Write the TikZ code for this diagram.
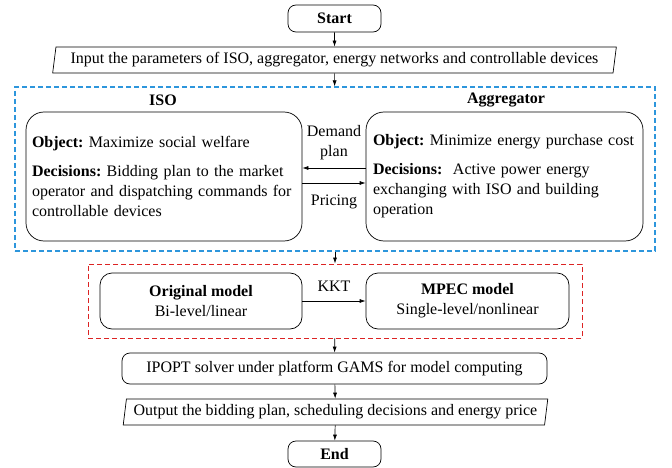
\documentclass[tikz,border=0pt]{standalone}
\usepackage{fontspec}
\setmainfont{Liberation Serif}
\usetikzlibrary{arrows.meta,shapes.geometric}
\definecolor{isoblue}{RGB}{45,150,220}
\definecolor{kktred}{RGB}{220,35,35}
\tikzstyle{term}=[draw,rounded corners=8pt,minimum width=93pt,minimum height=27pt,font=\bfseries]
\tikzstyle{io}=[draw,trapezium,trapezium left angle=78,trapezium right angle=102,trapezium stretches=true,minimum height=26pt,inner sep=0pt]
\tikzstyle{agent}=[draw,rounded corners=18pt,minimum height=129pt,align=left,inner xsep=6pt]
\tikzstyle{model}=[draw,rounded corners=12pt,minimum width=202pt,minimum height=56pt,align=center,inner sep=2pt]
\tikzstyle{frame}=[line width=1.2pt,dash pattern=on 5pt off 3pt]
\tikzstyle{edge}=[draw,-{Latex[length=6pt,width=4pt]}]
\begin{document}
\fontsize{16}{20}\selectfont\frenchspacing
\begin{tikzpicture}[x=1pt,y=-1pt,line width=0.7pt]
        \useasboundingbox (0,0) rectangle (672,468);
        \node[term] (start) at (334.5,18.5) {Start};
        \node[io,minimum width=567pt] (input) at (334.5,60) {Input the parameters of ISO, aggregator, energy networks and controllable devices};
        % upper level / lower level
        \node[frame,draw=isoblue,minimum width=640pt,minimum height=164pt] (upper) at (335,169) {};
        \node[font=\bfseries] (isolab) at (163,100) {ISO};
        \node[font=\bfseries] (agglab) at (506,100) {Aggregator};
        \node[agent,text width=264pt] (iso) at (164,176.5) {\textbf{Object:} Maximize social welfare\\[9pt]\textbf{Decisions:} Bidding plan to the market\\operator and dispatching commands for\\controllable devices};
        \node[agent,text width=263pt,inner xsep=7pt] (agg) at (504.5,176.5) {\textbf{Object:} Minimize energy purchase cost\\[9pt]\textbf{Decisions:}\ \ Active power energy\\exchanging with ISO and building\\operation};
        \node[align=center] (demand) at (334,143) {Demand\\plan};
        \node (pricing) at (334,202) {Pricing};
        % reformulation
        \node[frame,line width=0.9pt,draw=kktred,minimum width=494pt,minimum height=74pt] (lower) at (335,301) {};
        \node[model] (orig) at (201,301) {\textbf{Original model}\\Bi-level/linear};
        \node[model,minimum width=203pt] (mpec) at (467.5,301) {\textbf{MPEC model}\\Single-level/nonlinear};
        \node (kkt) at (334,286) {KKT};
        \node[draw,rounded corners=8pt,minimum width=425pt,minimum height=31pt] (solver) at (334.5,368.5) {IPOPT solver under platform GAMS for model computing};
        \node[io,minimum width=427pt] (output) at (335.5,412) {Output the bidding plan, scheduling decisions and energy price};
        \node[term,minimum height=26pt] (end) at (334.5,454) {End};
        \draw[edge] (start) to (input);
        \draw[edge] (input) to (upper);
        \draw[edge] ([yshift=8.5pt]agg.west) to ([yshift=8.5pt]iso.east);
        \draw[edge] ([yshift=-6.5pt]iso.east) to ([yshift=-6.5pt]agg.west);
        \draw[edge] (upper) to (lower);
        \draw[edge] (orig) to (mpec);
        \draw[edge] (lower) to (solver);
        \draw[edge] (solver) to (output);
        \draw[edge] (output) to (end);
      \end{tikzpicture}
\end{document}
